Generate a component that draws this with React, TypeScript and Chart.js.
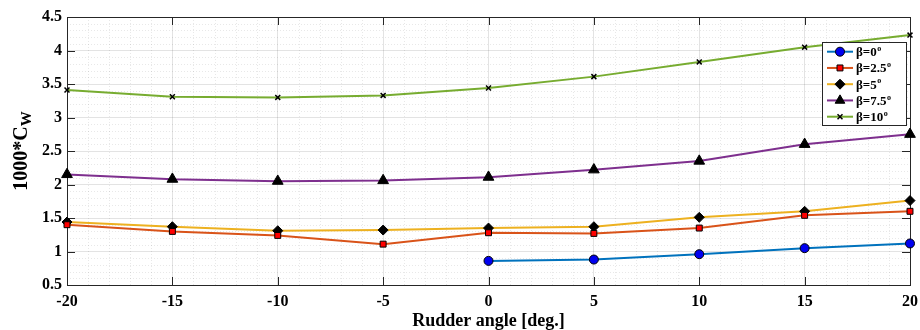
import React, { useEffect, useRef } from 'react';
import { Chart, registerables } from 'chart.js';
Chart.register(...registerables);

const rudderAngles = [-20, -15, -10, -5, 0, 5, 10, 15, 20];
const beta0 = [null, null, null, null, 0.86, 0.88, 0.96, 1.05, 1.12];
const beta25 = [1.40, 1.30, 1.24, 1.11, 1.28, 1.27, 1.35, 1.54, 1.60];
const beta5 = [1.44, 1.37, 1.31, 1.32, 1.35, 1.37, 1.51, 1.60, 1.76];
const beta75 = [2.15, 2.08, 2.05, 2.06, 2.11, 2.22, 2.35, 2.60, 2.75];
const beta10 = [3.41, 3.31, 3.30, 3.33, 3.44, 3.61, 3.83, 4.05, 4.23];
const seriesLabels = ['β=0', 'β=2.5', 'β=5', 'β=7.5', 'β=10'];
const xTickValues = [-20, -15, -10, -5, 0, 5, 10, 15, 20];
const yTickValues = [0.5, 1, 1.5, 2, 2.5, 3, 3.5, 4, 4.5];
const xAxisTitle = 'Rudder angle [deg.]';
const yAxisTitleMain = '1000*C';
const yAxisTitleSub = 'W';

const seriesValues = [beta0, beta25, beta5, beta75, beta10];
const lineColors = ['#0072BD', '#D95319', '#EDB120', '#7E2F8E', '#77AC30'];
const markerFills = ['#0000F0', '#FF0000', '#000000', '#000000', '#000000'];
const markerStyles = ['circle', 'rect', 'rectRot', 'triangle', 'crossRot'];
const markerRadii = [4.5, 4.2, 5, 6.2, 3.5];

const FONT = "'Liberation Serif', 'Times New Roman', serif";
const AXIS_COLOR = '#262626';

function drawMarker(ctx: CanvasRenderingContext2D, style: string, x: number, y: number, r: number, fill: string) {
  ctx.save();
  ctx.fillStyle = fill;
  ctx.strokeStyle = '#000';
  ctx.lineWidth = 1;
  ctx.beginPath();
  if (style === 'circle') {
    ctx.arc(x, y, r, 0, Math.PI * 2);
    ctx.fill(); ctx.stroke();
  } else if (style === 'rect') {
    const s = r * Math.SQRT1_2;
    ctx.rect(x - s, y - s, 2 * s, 2 * s);
    ctx.fill(); ctx.stroke();
  } else if (style === 'rectRot') {
    ctx.moveTo(x, y - r); ctx.lineTo(x + r, y); ctx.lineTo(x, y + r); ctx.lineTo(x - r, y); ctx.closePath();
    ctx.fill(); ctx.stroke();
  } else if (style === 'triangle') {
    const a = -Math.PI / 2;
    for (let i = 0; i < 3; i++) {
      const ang = a + i * (2 * Math.PI / 3);
      const px = x + Math.cos(ang) * r, py = y + Math.sin(ang) * r;
      if (i === 0) ctx.moveTo(px, py); else ctx.lineTo(px, py);
    }
    ctx.closePath();
    ctx.fill(); ctx.stroke();
  } else if (style === 'crossRot') {
    const s = r * Math.SQRT1_2;
    ctx.lineWidth = 1.5;
    ctx.moveTo(x - s, y - s); ctx.lineTo(x + s, y + s);
    ctx.moveTo(x + s, y - s); ctx.lineTo(x - s, y + s);
    ctx.stroke();
  }
  ctx.restore();
}

const framePlugin = {
  id: 'matlabFrame',
  beforeDatasetsDraw(chart: any) {
    const { ctx, chartArea: a, scales } = chart;
    const xs = scales.x, ys = scales.y;
    ctx.save();
    // minor grid
    ctx.strokeStyle = 'rgba(0,0,0,0.09)';
    ctx.lineWidth = 1;
    ctx.setLineDash([1, 2]);
    ctx.beginPath();
    for (let i = -20; i <= 20; i++) {
      if (i % 5 === 0) continue;
      const px = Math.round(xs.getPixelForValue(i)) + 0.5;
      ctx.moveTo(px, a.top); ctx.lineTo(px, a.bottom);
    }
    for (let k = 5; k <= 45; k++) {
      if (k % 5 === 0) continue;
      const py = Math.round(ys.getPixelForValue(k / 10)) + 0.5;
      ctx.moveTo(a.left, py); ctx.lineTo(a.right, py);
    }
    ctx.stroke();
    ctx.setLineDash([]);
    // box
    ctx.strokeStyle = AXIS_COLOR;
    ctx.lineWidth = 1;
    ctx.strokeRect(Math.round(a.left) + 0.5, Math.round(a.top) + 0.5, Math.round(a.right - a.left), Math.round(a.bottom - a.top));
    // inward ticks
    const tl = 8;
    ctx.beginPath();
    xTickValues.forEach((v) => {
      const px = Math.round(xs.getPixelForValue(v)) + 0.5;
      ctx.moveTo(px, a.bottom); ctx.lineTo(px, a.bottom - tl);
      ctx.moveTo(px, a.top); ctx.lineTo(px, a.top + tl);
    });
    yTickValues.forEach((v) => {
      const py = Math.round(ys.getPixelForValue(v)) + 0.5;
      ctx.moveTo(a.left, py); ctx.lineTo(a.left + tl, py);
      ctx.moveTo(a.right, py); ctx.lineTo(a.right - tl, py);
    });
    ctx.stroke();
    ctx.restore();
  },
  afterDatasetsDraw(chart: any) {
    const { ctx, chartArea: a } = chart;
    ctx.save();
    // axis titles
    ctx.fillStyle = '#000';
    ctx.font = `bold 18px ${FONT}`;
    ctx.textAlign = 'center';
    ctx.textBaseline = 'middle';
    ctx.fillText(xAxisTitle, (a.left + a.right) / 2, 321);
    // y title
    ctx.save();
    ctx.translate(20, (a.top + a.bottom) / 2);
    ctx.rotate(-Math.PI / 2);
    ctx.font = `bold 20px ${FONT}`;
    const wMain = ctx.measureText(yAxisTitleMain).width;
    ctx.font = `bold 15px ${FONT}`;
    const wSub = ctx.measureText(yAxisTitleSub).width;
    const start = -(wMain + wSub) / 2;
    ctx.textAlign = 'left';
    ctx.textBaseline = 'alphabetic';
    ctx.font = `bold 20px ${FONT}`;
    ctx.fillText(yAxisTitleMain, start, 7);
    ctx.font = `bold 15px ${FONT}`;
    ctx.fillText(yAxisTitleSub, start + wMain, 11);
    ctx.restore();
    // legend
    const bx = 822.5, by = 42.5, bw = 84, bh = 83;
    ctx.fillStyle = '#fff';
    ctx.fillRect(bx, by, bw, bh);
    ctx.strokeStyle = AXIS_COLOR;
    ctx.lineWidth = 1;
    ctx.strokeRect(bx, by, bw, bh);
    seriesLabels.forEach((lab, i) => {
      const cy = 51.7 + i * 16.25;
      ctx.strokeStyle = lineColors[i];
      ctx.lineWidth = 2;
      ctx.beginPath();
      ctx.moveTo(827, cy); ctx.lineTo(853, cy);
      ctx.stroke();
      drawMarker(ctx, markerStyles[i], 840, cy, markerRadii[i] * (i === 3 ? 0.9 : 1), markerFills[i]);
      ctx.fillStyle = '#000';
      ctx.textAlign = 'left';
      ctx.textBaseline = 'middle';
      ctx.font = `bold 13px ${FONT}`;
      ctx.fillText(lab, 856, cy + 1);
      const w = ctx.measureText(lab).width;
      ctx.font = `bold 8px ${FONT}`;
      ctx.fillText('o', 856 + w + 0.5, cy - 3);
    });
    ctx.restore();
  },
};

export default function App() {
  const ref = useRef<HTMLCanvasElement | null>(null);
  useEffect(() => {
    if (!ref.current) return;
    const datasets = seriesValues.map((vals, i) => ({
      label: seriesLabels[i],
      data: rudderAngles
        .map((x, j) => ({ x, y: vals[j] }))
        .filter((p) => p.y !== null),
      borderColor: lineColors[i],
      backgroundColor: markerFills[i],
      borderWidth: 2,
      pointStyle: markerStyles[i],
      pointRadius: markerRadii[i],
      pointBackgroundColor: markerFills[i],
      pointBorderColor: '#000',
      pointBorderWidth: i === 4 ? 1.5 : 1,
      tension: 0,
      clip: false as any,
    }));
    const chart = new Chart(ref.current, {
      type: 'line',
      data: { datasets: datasets as any },
      plugins: [framePlugin as any],
      options: {
        animation: false,
        responsive: false,
        events: [],
        layout: { padding: { top: 17, right: 10, left: 0, bottom: 0 } },
        plugins: { legend: { display: false }, tooltip: { enabled: false } },
        scales: {
          x: {
            type: 'linear',
            min: -20,
            max: 20,
            afterFit: (s: any) => { s.height = 45; s.paddingLeft = 0; s.paddingRight = 0; },
            afterBuildTicks: (s: any) => { s.ticks = xTickValues.map((v) => ({ value: v })); },
            grid: { color: 'rgba(0,0,0,0.11)', drawTicks: false },
            border: { display: false },
            ticks: {
              padding: 7,
              color: '#000',
              font: { family: FONT, size: 16, weight: 'bold' },
              callback: (v: any) => String(v),
              maxRotation: 0,
            },
          },
          y: {
            type: 'linear',
            min: 0.5,
            max: 4.5,
            afterFit: (s: any) => { s.width = 67; s.paddingTop = 0; s.paddingBottom = 0; },
            afterBuildTicks: (s: any) => { s.ticks = yTickValues.map((v) => ({ value: v })); },
            grid: { color: 'rgba(0,0,0,0.11)', drawTicks: false },
            border: { display: false },
            ticks: {
              padding: 5,
              color: '#000',
              font: { family: FONT, size: 16, weight: 'bold' },
              callback: (v: any) => String(v),
            },
          },
        },
      } as any,
    });
    return () => chart.destroy();
  }, []);
  return (
    <div style={{ position: 'absolute', left: 0, top: 0, width: 920, height: 330, background: '#fff' }}>
      <canvas ref={ref} width={920} height={330} style={{ display: 'block' }} />
    </div>
  );
}
